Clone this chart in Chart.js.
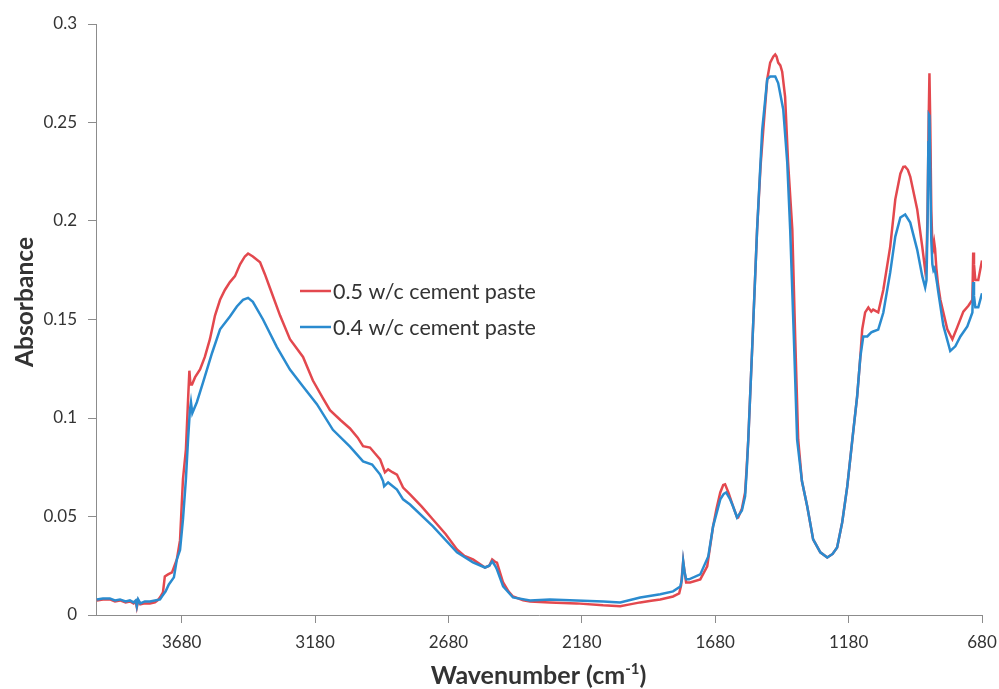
<!DOCTYPE html>
<html><head><meta charset="utf-8">
<script src="https://cdn.jsdelivr.net/npm/chart.js@4.4.1/dist/chart.umd.min.js"></script>
<style>html,body{margin:0;padding:0;background:#fff}#wrap{width:999px;height:689px}</style>
</head><body><div id="wrap"><canvas id="c" width="999" height="689"></canvas></div>
<script>
// ---- data (wavenumber cm-1, absorbance) ----
const xTickValues = [3680, 3180, 2680, 2180, 1680, 1180, 680];
const yTickLabels = ['0', '0.05', '0.1', '0.15', '0.2', '0.25', '0.3'];
const seriesNames = ['0.5 w/c cement paste', '0.4 w/c cement paste'];
const seriesColors = ['#e3484e', '#2a8bcf'];

const paste05 = [
[3998,0.0074],[3975,0.0079],[3949,0.0079],[3930,0.0069],[3911,0.0074],[3890,0.0064],[3874,0.0069],[3860,0.0059],[3852,0.0069],[3848,0.0040],[3843,0.0074],[3835,0.0054],[3818,0.0059],[3799,0.0059],[3780,0.0064],[3770,0.0074],[3761,0.0090],[3750,0.0115],[3743,0.0196],[3731,0.0206],[3716,0.0216],[3705,0.0257],[3698,0.0282],[3686,0.038],[3680,0.055],[3675,0.069],[3664,0.084],[3656,0.109],[3651,0.124],[3647,0.117],[3641,0.117],[3630,0.1206],[3611,0.1246],[3593,0.131],[3574,0.140],[3555,0.152],[3536,0.160],[3518,0.165],[3499,0.169],[3480,0.172],[3461,0.178],[3443,0.182],[3431,0.1835],[3413,0.182],[3386,0.179],[3368,0.173],[3349,0.166],[3311,0.152],[3274,0.140],[3225,0.131],[3188,0.119],[3150,0.110],[3124,0.104],[3085,0.099],[3049,0.0947],[3020,0.090],[3000,0.0857],[2974,0.0850],[2955,0.082],[2936,0.079],[2925,0.075],[2918,0.0724],[2906,0.0739],[2890,0.0725],[2873,0.0713],[2850,0.0647],[2824,0.0612],[2780,0.055],[2738,0.0485],[2690,0.041],[2648,0.0333],[2620,0.030],[2588,0.0282],[2543,0.0241],[2527,0.025],[2516,0.0282],[2505,0.027],[2498,0.0266],[2475,0.0165],[2455,0.012],[2438,0.0094],[2400,0.0075],[2374,0.0069],[2300,0.0064],[2200,0.0059],[2100,0.0049],[2036,0.0045],[2000,0.0054],[1961,0.0064],[1920,0.0072],[1886,0.0079],[1838,0.0094],[1815,0.011],[1808,0.015],[1800,0.0272],[1795,0.022],[1789,0.0165],[1774,0.0165],[1736,0.0181],[1710,0.0247],[1700,0.034],[1688,0.045],[1675,0.054],[1661,0.0622],[1650,0.066],[1643,0.0663],[1630,0.062],[1613,0.0551],[1598,0.0495],[1594,0.0495],[1580,0.054],[1568,0.0622],[1562,0.075],[1556,0.0891],[1540,0.140],[1523,0.1956],[1510,0.228],[1500,0.246],[1485,0.272],[1474,0.2804],[1462,0.2835],[1455,0.2845],[1450,0.2835],[1444,0.2804],[1436,0.279],[1429,0.2758],[1418,0.263],[1407,0.230],[1391,0.1956],[1380,0.140],[1369,0.0891],[1355,0.068],[1335,0.0551],[1313,0.0384],[1286,0.0318],[1260,0.0292],[1240,0.031],[1223,0.0343],[1204,0.047],[1185,0.0653],[1166,0.089],[1148,0.111],[1136,0.1312],[1129,0.145],[1118,0.1536],[1106,0.1561],[1095,0.154],[1088,0.155],[1069,0.1536],[1050,0.165],[1024,0.187],[1005,0.211],[986,0.224],[975,0.2275],[968,0.2276],[958,0.226],[949,0.2226],[923,0.206],[904,0.187],[893,0.175],[888,0.180],[884,0.205],[880,0.250],[877,0.275],[874,0.250],[870,0.205],[866,0.188],[862,0.186],[859,0.189],[856,0.186],[851,0.176],[845,0.168],[836,0.160],[810,0.145],[791,0.140],[773,0.146],[750,0.154],[731,0.157],[716,0.160],[713,0.184],[710,0.178],[705,0.170],[694,0.170],[680,0.180]
];

const paste04 = [
[3998,0.0079],[3975,0.0084],[3949,0.0084],[3930,0.0074],[3911,0.0079],[3890,0.0069],[3874,0.0074],[3860,0.0064],[3852,0.0074],[3848,0.0045],[3843,0.0079],[3835,0.0059],[3818,0.0069],[3799,0.0069],[3780,0.0074],[3761,0.0079],[3754,0.0094],[3740,0.012],[3728,0.0155],[3709,0.0191],[3698,0.0282],[3686,0.033],[3675,0.0485],[3664,0.069],[3656,0.089],[3649,0.104],[3645,0.108],[3640,0.1025],[3623,0.108],[3600,0.118],[3566,0.133],[3536,0.145],[3499,0.1515],[3473,0.1566],[3450,0.160],[3431,0.161],[3413,0.159],[3375,0.150],[3323,0.136],[3274,0.1246],[3225,0.116],[3173,0.107],[3113,0.094],[3049,0.0855],[3000,0.078],[2966,0.0764],[2936,0.0713],[2925,0.068],[2921,0.0653],[2906,0.0673],[2873,0.0637],[2850,0.0587],[2824,0.0561],[2738,0.045],[2648,0.0318],[2588,0.0267],[2543,0.0241],[2527,0.0250],[2516,0.0272],[2505,0.025],[2498,0.0231],[2475,0.0145],[2438,0.0089],[2374,0.0074],[2300,0.0079],[2200,0.0074],[2100,0.0069],[2036,0.0064],[1961,0.0089],[1886,0.0105],[1838,0.0120],[1811,0.0145],[1805,0.018],[1800,0.0272],[1795,0.022],[1789,0.0181],[1778,0.0181],[1736,0.0206],[1706,0.0297],[1688,0.045],[1661,0.0587],[1648,0.0615],[1639,0.0622],[1625,0.059],[1613,0.0551],[1598,0.0495],[1580,0.053],[1568,0.0602],[1562,0.073],[1556,0.0891],[1540,0.140],[1523,0.1956],[1504,0.246],[1485,0.272],[1474,0.2733],[1455,0.2733],[1444,0.270],[1425,0.2566],[1410,0.2297],[1399,0.1957],[1385,0.140],[1373,0.089],[1355,0.068],[1335,0.0551],[1313,0.0384],[1286,0.0318],[1260,0.0292],[1240,0.031],[1223,0.0343],[1204,0.047],[1185,0.0653],[1166,0.089],[1148,0.111],[1136,0.131],[1125,0.1414],[1110,0.1414],[1095,0.1435],[1088,0.1439],[1069,0.1449],[1050,0.1534],[1024,0.1739],[1005,0.1921],[986,0.2018],[968,0.2033],[949,0.1992],[923,0.1855],[904,0.172],[893,0.1663],[888,0.170],[884,0.200],[881,0.240],[879,0.254],[877,0.2535],[874,0.225],[870,0.190],[866,0.178],[862,0.175],[858,0.176],[855,0.174],[848,0.168],[844,0.164],[825,0.147],[799,0.134],[780,0.1364],[761,0.1414],[735,0.1465],[716,0.1536],[713,0.169],[710,0.162],[705,0.1562],[694,0.1562],[680,0.1633]
];

const xTitle = 'Wavenumber (cm';
const xTitleSup = '-1';
const xTitleEnd = ')';
const yTitle = 'Absorbance';

// ---- drawing ----
const axisColor = '#8c8c8c';
const textColor = '#333333';

function fitFont(ctx, text, weight, family, targetW) {
  ctx.font = weight + ' 20px ' + family;
  const w = ctx.measureText(text).width;
  return 20 * targetW / w;
}

const decorPlugin = {
  id: 'decor',
  afterDraw(chart) {
    const ctx = chart.ctx;
    ctx.save();
    ctx.fillStyle = textColor;
    // y title
    const ys = fitFont(ctx, yTitle, 'bold', 'Lato', 130);
    ctx.font = 'bold ' + ys.toFixed(1) + 'px Lato';
    ctx.translate(25, 302);
    ctx.rotate(-Math.PI / 2);
    ctx.textAlign = 'center';
    ctx.textBaseline = 'middle';
    ctx.fillText(yTitle, 0, 0);
    ctx.restore();

    // x title with superscript
    ctx.save();
    ctx.fillStyle = textColor;
    const fs = 25;
    const supFs = 15;
    ctx.font = 'bold ' + fs + 'px Lato';
    const w1 = ctx.measureText(xTitle).width;
    const w3 = ctx.measureText(xTitleEnd).width;
    ctx.font = 'bold ' + supFs + 'px Lato';
    const w2 = ctx.measureText(xTitleSup).width;
    const total = w1 + w2 + w3;
    let x0 = 538.5 - total / 2;
    const base = 684;
    ctx.textBaseline = 'alphabetic';
    ctx.textAlign = 'left';
    ctx.font = 'bold ' + fs + 'px Lato';
    ctx.fillText(xTitle, x0, base);
    ctx.font = 'bold ' + supFs + 'px Lato';
    ctx.fillText(xTitleSup, x0 + w1, base - 10);
    ctx.font = 'bold ' + fs + 'px Lato';
    ctx.fillText(xTitleEnd, x0 + w1 + w2, base);
    ctx.restore();

    // legend
    ctx.save();
    const legY = [291, 327];
    ctx.font = '21.5px Lato';
    ctx.textBaseline = 'middle';
    ctx.textAlign = 'left';
    for (let i = 0; i < 2; i++) {
      ctx.strokeStyle = seriesColors[i];
      ctx.lineWidth = 2.5;
      ctx.beginPath();
      ctx.moveTo(300, legY[i]);
      ctx.lineTo(331, legY[i]);
      ctx.stroke();
      ctx.fillStyle = textColor;
      ctx.fillText(seriesNames[i], 333, legY[i] + 1);
    }
    ctx.restore();
  }
};

const toXY = arr => arr.map(p => ({ x: p[0], y: p[1] }));

new Chart(document.getElementById('c'), {
  type: 'line',
  data: {
    datasets: [
      { label: seriesNames[0], data: toXY(paste05), borderColor: seriesColors[0], borderWidth: 2.5, pointRadius: 0, tension: 0, fill: false, order: 1 },
      { label: seriesNames[1], data: toXY(paste04), borderColor: seriesColors[1], borderWidth: 2.5, pointRadius: 0, tension: 0, fill: false, order: 0 }
    ]
  },
  options: {
    responsive: false,
    animation: false,
    devicePixelRatio: 1,
    layout: { padding: { left: 0, right: 17, top: 24, bottom: 0 } },
    plugins: { legend: { display: false }, tooltip: { enabled: false } },
    scales: {
      x: {
        type: 'linear', reverse: true, min: 680, max: 4001,
        afterBuildTicks: s => { s.ticks = xTickValues.map(v => ({ value: v })); },
        afterFit: s => { s.height = 74; s.paddingLeft = 0; s.paddingRight = 0; },
        grid: { display: true, drawOnChartArea: false, drawTicks: true, tickLength: 8, color: axisColor },
        border: { display: true, color: axisColor, width: 1 },
        ticks: { font: { family: 'Lato', size: 17 }, color: textColor, padding: 9, maxRotation: 0, autoSkip: false, callback: v => String(v) }
      },
      y: {
        min: 0, max: 0.3,
        afterBuildTicks: s => { s.ticks = yTickLabels.map(v => ({ value: parseFloat(v) })); },
        afterFit: s => { s.width = 96; s.paddingTop = 0; s.paddingBottom = 0; },
        grid: { display: true, drawOnChartArea: false, drawTicks: true, tickLength: 8, color: axisColor },
        border: { display: true, color: axisColor, width: 1 },
        ticks: { font: { family: 'Lato', size: 17 }, color: textColor, padding: 11, autoSkip: false, callback: (v, i) => yTickLabels[i] }
      }
    }
  },
  plugins: [decorPlugin]
});
</script>
</body></html>
